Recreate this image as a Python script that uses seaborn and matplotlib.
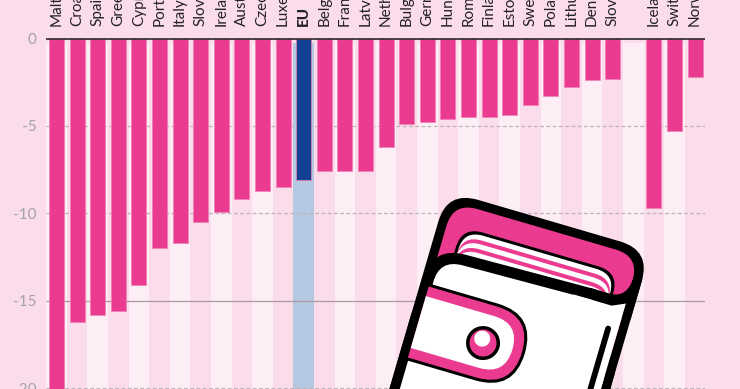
import matplotlib
matplotlib.use("Agg")
import matplotlib.pyplot as plt
import seaborn as sns
import pandas as pd
from matplotlib.patches import FancyBboxPatch, PathPatch, Circle
from matplotlib.path import Path
from matplotlib.transforms import Affine2D

countries = ["Malta", "Croatia", "Spain", "Greece", "Cyprus", "Portugal", "Italy", "Slovenia",
             "Ireland", "Austria", "Czechia", "Luxembourg", "EU", "Belgium", "France", "Latvia",
             "Netherlands", "Bulgaria", "Germany", "Hungary", "Romania", "Finland", "Estonia",
             "Sweden", "Poland", "Lithuania", "Denmark", "Slovakia", " ", "Iceland",
             "Switzerland", "Norway"]
values = [-21.0, -16.2, -15.8, -15.6, -14.1, -12.0, -11.7, -10.5, -9.9, -9.2, -8.7, -8.5, -8.1,
          -7.6, -7.6, -7.6, -6.2, -4.9, -4.8, -4.6, -4.5, -4.5, -4.4, -3.8, -3.3, -2.8, -2.4,
          -2.3, None, -9.7, -5.3, -2.2]
y_ticks = [0, -5, -10, -15, -20]
y_labels = ["0", "-5", "-10", "-15", "-20"]

BG, LIGHT, PINK, BLUE, PALE_BLUE = "#FBDCEB", "#FDEEF5", "#EB3B90", "#154194", "#B5C8E2"
W, H = 740, 389

sns.set_theme(style="white")
plt.rcParams["font.family"] = ["Lato", "DejaVu Sans"]
df = pd.DataFrame({"country": countries, "value": values})
df["group"] = ["eu" if c == "EU" else "other" for c in countries]

fig = plt.figure(figsize=(7.4, 3.89), dpi=100, facecolor=BG)
ax = fig.add_axes([46 / W, 0, (705 - 46) / W, (H - 38.5) / H], facecolor=BG)

sns.barplot(data=df, x="country", y="value", hue="group", order=countries,
            palette={"eu": BLUE, "other": PINK}, dodge=False, legend=False, saturation=1,
            width=0.73, edgecolor="#F27DB5", linewidth=0.5, ax=ax, zorder=3)

for i, c in enumerate(countries):
    col = PALE_BLUE if c == "EU" else (LIGHT if i % 2 == 0 else BG)
    ax.axvspan(i - 0.5, i + 0.5, ymin=0, ymax=(20.03 - 0.27) / 20.03, color=col, lw=0, zorder=0)

ax.set_xlim(-0.51, 31.48)
ax.set_ylim(-20.03, 0)
ax.hlines([-5, -10, -20], -0.51, 31.48, colors="#BDB3B8", linestyles=(0, (3, 2)), lw=0.9, zorder=1)
ax.hlines(-15, -0.51, 31.48, colors="#A89CA2", lw=0.9, zorder=1)
ax.hlines(0, -0.51, 31.48, colors="#1A1A1A", lw=1.1, zorder=4, clip_on=False)

for s in ax.spines.values():
    s.set_visible(False)
ax.set_xlabel("")
ax.set_ylabel("")
ax.xaxis.tick_top()
ax.set_xticks(range(len(countries)))
ax.set_xticklabels(countries, rotation=90, ha="center", va="bottom", fontsize=11, color="#222222")
ax.set_yticks(y_ticks)
ax.set_yticklabels(y_labels, fontsize=11, color="#A3A3A3")
ax.tick_params(axis="x", length=0, pad=9)
ax.tick_params(axis="y", length=0, pad=7)
for lab, c in zip(ax.get_xticklabels(), countries):
    if c == "EU":
        lab.set_fontweight("black")

# Decorative wallet, drawn in a pixel-based overlay
ov = fig.add_axes([0, 0, 1, 1], facecolor="none")
ov.set_xlim(0, W)
ov.set_ylim(H, 0)
ov.axis("off")
T = Affine2D().rotate_deg(16.3).translate(447.3, 190.9) + ov.transData


def rrect(u0, v0, u1, v1, r, fc, z):
    ov.add_patch(FancyBboxPatch((u0 + r, v0 + r), u1 - u0 - 2 * r, v1 - v0 - 2 * r,
                                boxstyle=f"round,pad={r},rounding_size={r}", fc=fc, ec="none",
                                lw=0, transform=T, zorder=z))


def tab(u0, u1, v0, v1, r, fc, z):
    verts = [(u0, v0), (u1 - r, v0), (u1, v0), (u1, v0 + r), (u1, v1 - r), (u1, v1), (u1 - r, v1),
             (u0, v1), (u0, v0)]
    codes = [Path.MOVETO, Path.LINETO, Path.CURVE3, Path.CURVE3, Path.LINETO, Path.CURVE3,
             Path.CURVE3, Path.LINETO, Path.CLOSEPOLY]
    ov.add_patch(PathPatch(Path(verts, codes), fc=fc, ec="none", transform=T, zorder=z))


# back panel
rrect(0, 0, 212, 250, 32, "black", 5)
rrect(9, 9, 203, 240, 25, PINK, 6)
# banknotes / card stack
rrect(24, 30, 188, 120, 22, "black", 7)
rrect(27, 33, 185, 120, 20, "white", 8)
rrect(27, 38, 185, 120, 20, PINK, 9)
rrect(27, 42, 185, 120, 20, "white", 10)
rrect(27, 47, 185, 120, 20, PINK, 11)
rrect(27, 51, 185, 120, 20, "white", 12)
# front panel: its top edge is slightly flatter than the wallet body
F = Affine2D().rotate_deg(-1.4).translate(0, 4) + T
ov.add_patch(FancyBboxPatch((34, 87), 130, 120,
                            boxstyle="round,pad=34,rounding_size=34", fc="black", ec="none", lw=0,
                            transform=F, zorder=13))
ov.add_patch(PathPatch(Path([(165, 53), (186, 53), (203, 52), (203, 30), (212, 30), (212, 72), (165, 72), (165, 53)],
                            [Path.MOVETO, Path.LINETO, Path.CURVE3, Path.CURVE3, Path.LINETO,
                             Path.LINETO, Path.LINETO, Path.CLOSEPOLY]),
                       fc="black", ec="none", transform=T, zorder=13.5))
rrect(0, 110, 212, 250, 20, "black", 13.5)
ov.add_patch(FancyBboxPatch((34, 88), 130, 120,
                            boxstyle="round,pad=24,rounding_size=24", fc="white", ec="none", lw=0,
                            transform=F, zorder=14))
rrect(10, 120, 203, 241, 18, "white", 14)
ov.add_patch(PathPatch(Path([(150, 64), (190, 64), (203, 58), (203, 170), (150, 170), (150, 64)],
                            [Path.MOVETO, Path.LINETO, Path.LINETO, Path.LINETO, Path.LINETO, Path.CLOSEPOLY]),
                       fc="white", ec="none", transform=T, zorder=14))
# clasp
tab(9, 120, 94, 174, 40, "black", 15)
tab(9, 117, 97, 171, 37, PINK, 16)
tab(9, 107, 107, 161, 27, "white", 17)
ov.add_patch(Circle((77, 136), 17, fc="black", ec="none", transform=T, zorder=18))
ov.add_patch(Circle((77, 136), 13.5, fc=PINK, ec="none", transform=T, zorder=19))
ov.add_patch(Circle((75, 132), 8, fc="white", ec="none", transform=T, zorder=20))
# slit
ov.plot([193, 193], [87, 240], color="black", lw=4.2, solid_capstyle="round", transform=T, zorder=21)

fig.savefig("out.png", dpi=100, facecolor=BG)
